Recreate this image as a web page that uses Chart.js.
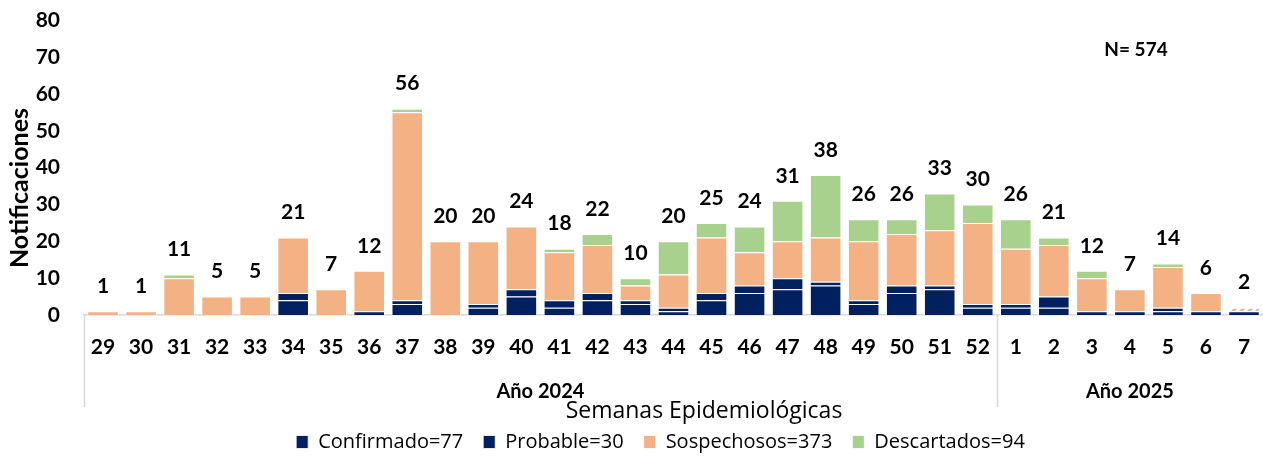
<!DOCTYPE html>
<html>
<head>
<meta charset="utf-8">
<script src="https://cdn.jsdelivr.net/npm/chart.js@4"></script>
<style>
  html, body { margin: 0; padding: 0; background: #fff; }
  #wrap { width: 1263px; height: 458px; }
</style>
</head>
<body>
<div id="wrap"><canvas id="myChart"></canvas></div>
<script>
const semanas = ["29", "30", "31", "32", "33", "34", "35", "36", "37", "38", "39", "40", "41", "42", "43", "44", "45", "46", "47", "48", "49", "50", "51", "52", "1", "2", "3", "4", "5", "6", "7"];
const confirmado = [0, 0, 0, 0, 0, 4, 0, 1, 3, 0, 2, 5, 2, 4, 3, 1, 4, 6, 7, 8, 3, 6, 7, 2, 2, 2, 1, 1, 1, 1, 1];
const probable = [0, 0, 0, 0, 0, 2, 0, 0, 1, 0, 1, 2, 2, 2, 1, 1, 2, 2, 3, 1, 1, 2, 1, 1, 1, 3, 0, 0, 1, 0, 0];
const sospechosos = [1, 1, 10, 5, 5, 15, 7, 11, 51, 20, 17, 17, 13, 13, 4, 9, 15, 9, 10, 12, 16, 14, 15, 22, 15, 14, 9, 6, 11, 5, 1];
const descartados = [0, 0, 1, 0, 0, 0, 0, 0, 1, 0, 0, 0, 1, 3, 2, 9, 4, 7, 11, 17, 6, 4, 10, 5, 8, 2, 2, 0, 1, 0, 0];
const anios = [
  { label: "Año 2024", desde: 0, hasta: 23 },
  { label: "Año 2025", desde: 24, hasta: 30 }
];
const semanaParcial = 30; // última semana, aún incompleta (rayada)

const suma = (arr) => arr.reduce((a, b) => a + b, 0);
const totales = semanas.map((s, i) => confirmado[i] + probable[i] + sospechosos[i] + descartados[i]);

const NAVY = "#002060";
const NARANJA = "#F4B183";
const VERDE = "#A9D18E";
const negrita = "Lato";

function rayado() {
  const c = document.createElement("canvas");
  c.width = 8; c.height = 8;
  const g = c.getContext("2d");
  g.fillStyle = "#fff";
  g.fillRect(0, 0, 8, 8);
  g.strokeStyle = NARANJA;
  g.lineWidth = 3;
  g.beginPath();
  g.moveTo(0, 8); g.lineTo(8, 0);
  g.moveTo(-2, 2); g.lineTo(2, -2);
  g.moveTo(6, 10); g.lineTo(10, 6);
  g.stroke();
  return g.createPattern(c, "repeat");
}
const patron = rayado();

// totales encima de cada barra, N, títulos y grupos de años
const extras = {
  id: "extras",
  afterLayout(chart) {
    // la leyenda del original está algo corrida a la derecha y abajo
    chart.legend.left += 29;
    chart.legend.right += 29;
    chart.legend.top += 4;
    chart.legend.bottom += 4;
  },
  afterDatasetsDraw(chart) {
    const { ctx, scales: { x, y }, chartArea } = chart;
    ctx.save();
    ctx.fillStyle = "#000";
    ctx.textAlign = "center";
    ctx.textBaseline = "middle";
    ctx.font = "bold 21px " + negrita;
    totales.forEach((t, i) => {
      ctx.fillText(String(t), x.getPixelForValue(i), y.getPixelForValue(t) - 25);
    });

    ctx.font = "bold 19px " + negrita;
    ctx.fillText("N= " + suma(totales), 1136, 50);

    // grupos de años
    const paso = x.getPixelForValue(1) - x.getPixelForValue(0);
    ctx.strokeStyle = "#d9d9d9";
    ctx.lineWidth = 1.5;
    ctx.font = "bold 20px " + negrita;
    anios.forEach((a) => {
      const x0 = x.getPixelForValue(a.desde) - paso / 2;
      const x1 = x.getPixelForValue(a.hasta) + paso / 2;
      ctx.beginPath();
      ctx.moveTo(Math.round(x0) + 0.5, chartArea.bottom);
      ctx.lineTo(Math.round(x0) + 0.5, chartArea.bottom + 92);
      ctx.stroke();
      ctx.fillText(a.label, (x0 + x1) / 2, chartArea.bottom + 77);
    });

    ctx.font = "23px 'Open Sans'";
    ctx.fillText("Semanas Epidemiológicas", 704, chartArea.bottom + 96);

    ctx.translate(20, 188);
    ctx.rotate(-Math.PI / 2);
    ctx.font = "bold 25px " + negrita;
    ctx.fillText("Notificaciones", 0, 0);
    ctx.restore();
  }
};

const ctx = document.getElementById("myChart").getContext("2d");
const myChart = new Chart(ctx, {
  type: "bar",
  data: {
    labels: semanas,
    datasets: [
      { label: "Confirmado=" + suma(confirmado), data: confirmado, backgroundColor: NAVY },
      { label: "Probable=" + suma(probable), data: probable, backgroundColor: NAVY },
      {
        label: "Sospechosos=" + suma(sospechosos),
        data: sospechosos,
        backgroundColor: semanas.map((s, i) => (i === semanaParcial ? patron : NARANJA))
      },
      { label: "Descartados=" + suma(descartados), data: descartados, backgroundColor: VERDE }
    ]
  },
  options: {
    responsive: true,
    maintainAspectRatio: false,
    animation: false,
    layout: { padding: { top: 20, left: 0, right: 0, bottom: 0 } },
    datasets: {
      bar: {
        barPercentage: 0.83,
        categoryPercentage: 1,
        borderColor: "rgba(255,255,255,0.8)",
        borderWidth: 1
      }
    },
    plugins: {
      tooltip: { enabled: false },
      legend: {
        position: "bottom",
        labels: {
          color: "#000",
          boxWidth: 12,
          boxHeight: 13,
          padding: 20,
          font: { family: "'Open Sans'", size: 20 }
        }
      }
    },
    scales: {
      x: {
        stacked: true,
        grid: { display: false },
        border: { display: true, color: "#d9d9d9", width: 1.5 },
        ticks: {
          color: "#000",
          padding: 12,
          maxRotation: 0,
          autoSkip: false,
          font: { family: negrita, size: 21, weight: "bold" }
        },
        afterFit(s) {
          s.height = s.chart.height - s.chart.legend.height - 315;
        }
      },
      y: {
        stacked: true,
        min: 0,
        max: 80,
        grid: { display: false },
        border: { display: false },
        ticks: {
          stepSize: 10,
          color: "#000",
          padding: 16,
          font: { family: negrita, size: 21, weight: "bold", lineHeight: 0.4 }
        },
        afterFit(s) {
          s.width = 84;
        }
      }
    }
  },
  plugins: [extras]
});
</script>
</body>
</html>
